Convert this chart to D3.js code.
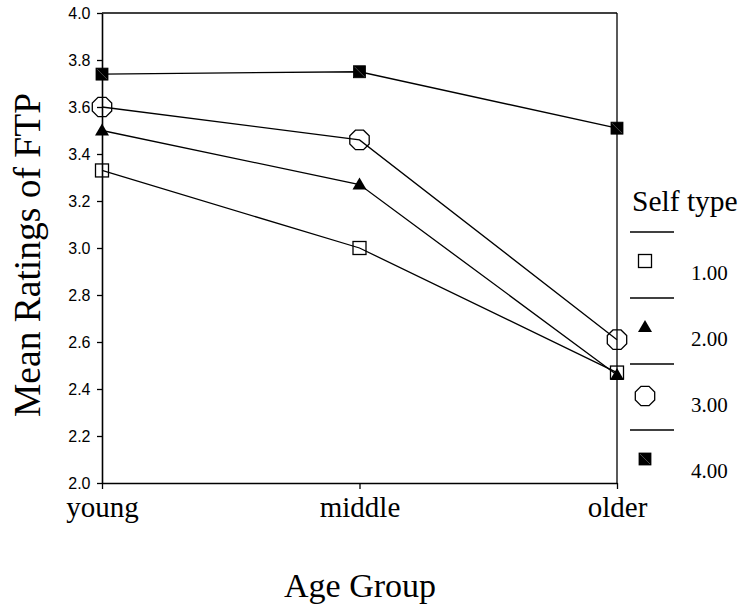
<!DOCTYPE html>
<html><head><meta charset="utf-8">
<script src="https://cdn.jsdelivr.net/npm/d3@7"></script>
<style>body{margin:0;background:#fff}svg{display:block}</style>
</head><body>
<svg id="chart" width="742" height="607"></svg>
<script>
const categories = ["young", "middle", "older"];
const seriesNames = ["1.00", "2.00", "3.00", "4.00"];
const series1 = [3.33, 3.00, 2.47];
const series2 = [3.50, 3.27, 2.46];
const series3 = [3.60, 3.46, 2.61];
const series4 = [3.74, 3.75, 3.51];
const yTicks = [2.0, 2.2, 2.4, 2.6, 2.8, 3.0, 3.2, 3.4, 3.6, 3.8, 4.0];
const symbolsKind = ["square", "triangle", "octagon", "filledSquare"];
const allSeries = [series1, series2, series3, series4];

const svg = d3.select("#chart");
const L = 102, R = 617, T = 13, B = 483;
const x = d3.scalePoint().domain(categories).range([L, R]).padding(0);
const y = d3.scaleLinear().domain([2, 4]).range([B, T]);
const serif = "Liberation Serif, Times New Roman, serif";

// frame
svg.append("line").attr("x1", L).attr("x2", R).attr("y1", T).attr("y2", T).attr("stroke", "#000").attr("stroke-width", 1.3);
svg.append("line").attr("x1", R).attr("x2", R).attr("y1", T).attr("y2", B).attr("stroke", "#000").attr("stroke-width", 1.3);

// y axis
const ya = svg.append("g").attr("transform", `translate(${L},0)`)
  .call(d3.axisLeft(y).tickValues(yTicks).tickFormat(d3.format(".1f")).tickSize(5).tickSizeOuter(0));
ya.select(".domain").attr("stroke-width", 1.6);
ya.selectAll(".tick line").attr("stroke-width", 1.3);
ya.selectAll("text").attr("font-family", "Liberation Sans, Arial, sans-serif").attr("font-size", 16).attr("fill", "#000").attr("x", -11.5);

// x axis
const xa = svg.append("g").attr("transform", `translate(0,${B})`)
  .call(d3.axisBottom(x).tickSize(6).tickSizeOuter(0));
xa.select(".domain").attr("stroke-width", 1.6);
xa.selectAll(".tick line").attr("stroke-width", 1.3);
xa.selectAll("text").attr("font-family", serif).attr("font-size", 29).attr("fill", "#000").attr("y", 34).attr("dy", 0);

// symbol drawing
function octagonPath(r) {
  const pts = [];
  for (let i = 0; i < 8; i++) {
    const a = Math.PI / 8 + i * Math.PI / 4;
    pts.push([r * Math.cos(a), r * Math.sin(a)]);
  }
  return "M" + pts.map(p => p.join(",")).join("L") + "Z";
}
function drawSymbol(g, kind, cx, cy) {
  if (kind === "square") {
    g.append("rect").attr("x", cx - 6.5).attr("y", cy - 6.5).attr("width", 13).attr("height", 13)
      .attr("fill", "none").attr("stroke", "#000").attr("stroke-width", 1.3);
  } else if (kind === "filledSquare") {
    g.append("rect").attr("x", cx - 6).attr("y", cy - 6).attr("width", 12).attr("height", 12)
      .attr("fill", "#000").attr("stroke", "#000").attr("stroke-width", 0.8);
    g.append("line").attr("x1", cx - 5).attr("y1", cy - 5).attr("x2", cx + 5).attr("y2", cy + 5)
      .attr("stroke", "#777").attr("stroke-width", 0.6);
  } else if (kind === "triangle") {
    g.append("path").attr("d", `M${cx},${cy - 7}L${cx + 7},${cy + 5}L${cx - 7},${cy + 5}Z`).attr("fill", "#000");
  } else if (kind === "octagon") {
    g.append("path").attr("d", octagonPath(10.5)).attr("transform", `translate(${cx},${cy})`)
      .attr("fill", "none").attr("stroke", "#000").attr("stroke-width", 1.3);
  }
}

const line = d3.line().x((d, i) => x(categories[i])).y(d => y(d));
allSeries.forEach((s, k) => {
  svg.append("path").attr("d", line(s)).attr("fill", "none").attr("stroke", "#000").attr("stroke-width", 1.3);
});
allSeries.forEach((s, k) => {
  const g = svg.append("g");
  s.forEach((v, i) => drawSymbol(g, symbolsKind[k], x(categories[i]), y(v)));
});

// titles
svg.append("text").attr("transform", "translate(40,255) rotate(-90)").attr("text-anchor", "middle")
  .attr("font-family", serif).attr("font-size", 37.5).text("Mean Ratings of FTP");
svg.append("text").attr("x", 360).attr("y", 597).attr("text-anchor", "middle")
  .attr("font-family", serif).attr("font-size", 34).text("Age Group");

// legend
const lg = svg.append("g");
lg.append("text").attr("x", 632).attr("y", 211).attr("font-family", serif)
  .attr("font-size", 29.5).text("Self type");
const legendY0 = 232, legendStep = 66;
seriesNames.forEach((name, k) => {
  const ly = legendY0 + k * legendStep;
  lg.append("line").attr("x1", 630).attr("x2", 674).attr("y1", ly).attr("y2", ly).attr("stroke", "#000").attr("stroke-width", 1.3);
  drawSymbol(lg, symbolsKind[k], 645, ly + 29 + (k === 2 ? 3 : 0));
  lg.append("text").attr("x", 691).attr("y", ly + 48).attr("font-family", serif)
    .attr("font-size", 21).text(name);
});
</script>
</body></html>
